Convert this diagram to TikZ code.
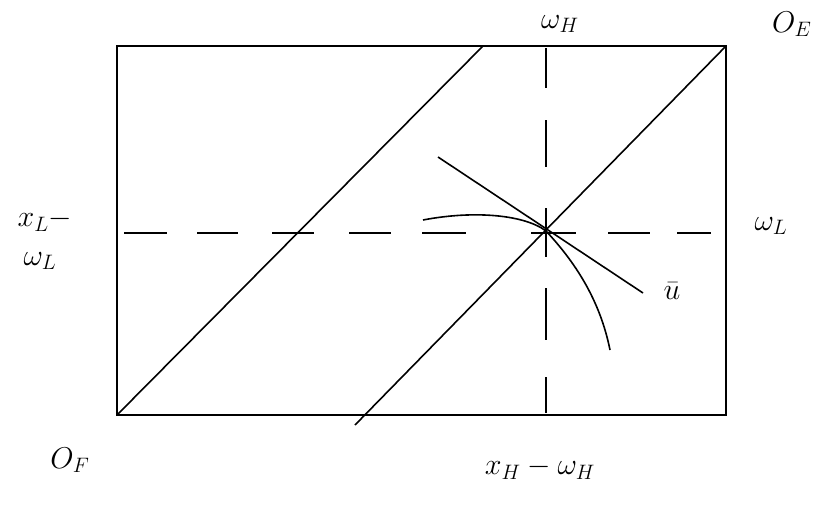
\documentclass[tikz,border=0pt]{standalone}
\usepackage{amsmath}
\usetikzlibrary{positioning}
\begin{document}
\begin{tikzpicture}[x=1pt,y=-1pt,line width=1.6pt,
  lbl/.style={font=\huge, scale=1.45, inner sep=1pt}]
\useasboundingbox (0,0) rectangle (830,504);
% box corners
\coordinate (of) at (117,415);
\coordinate (oe) at (726,46);
\coordinate (eq) at (546,231);
\draw (of) rectangle (oe);
% diagonals
\coordinate (topd) at (483,46);
\coordinate (botd) at (355,425);
\draw (of) -- (topd);
\draw (oe) -- (botd);
% endowment lines (hand dashes)
\foreach \a/\b in {124/167,197/238,272/314,349/391,422/466,531/576,608/650,677/711}
  \draw (\a,233) -- (\b,233);
\foreach \a/\b in {48/88,120/167,208/257,288/340,377/413}
  \draw (546,\a) -- (546,\b);
% budget line and indifference curve
\coordinate (bl) at (438,157);
\coordinate (br) at (643,293);
\draw (bl) -- (br);
\coordinate (ul) at (423,220);
\coordinate (ur) at (610,350);
\draw (ul) .. controls (475,210) and (525,215) .. (eq) .. controls (575,262) and (600,300) .. (ur);
% labels
\node[lbl] (wh) at (560,24) {$\omega_H$};
\node[lbl] (oelbl) at (792,24) {$O_E$};
\node[lbl] (xl) at (45,220) {$x_L-$};
\node[lbl] (wl2) at (40,261) {$\omega_L$};
\node[lbl] (wl) at (771,226) {$\omega_L$};
\node[lbl] (ubar) at (672,291) {$\bar{u}$};
\node[lbl] (oflbl) at (70,460) {$O_F$};
\node[lbl] (xh) at (540,468) {$x_H-\omega_H$};
\end{tikzpicture}
\end{document}
